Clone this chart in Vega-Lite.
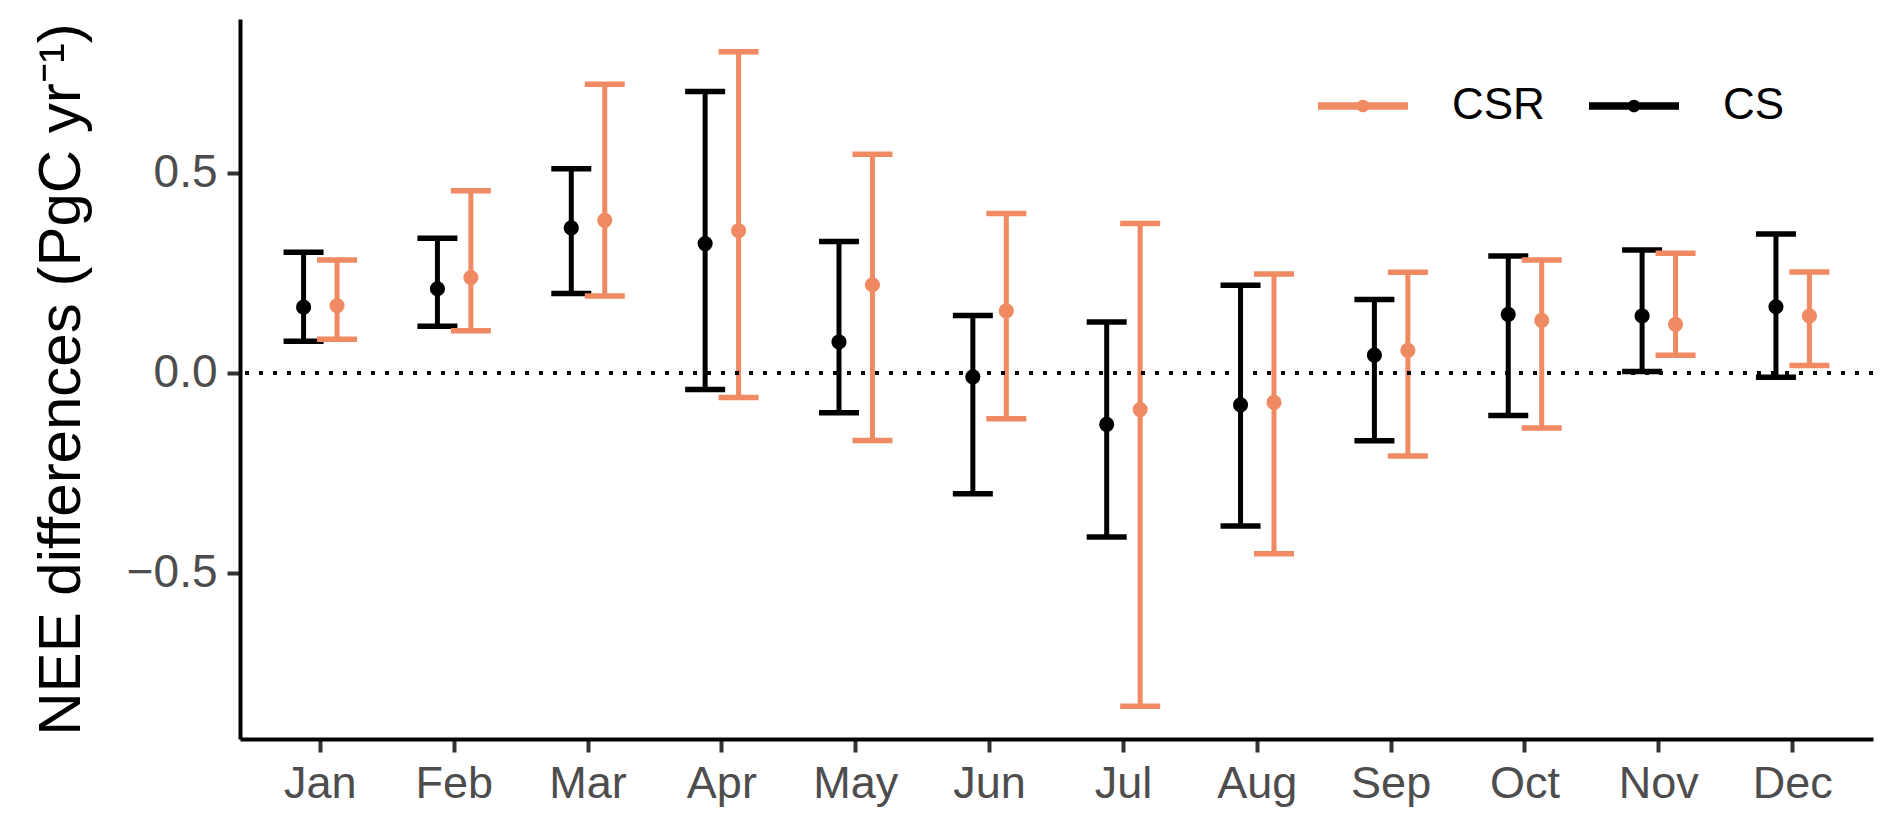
{
  "$schema": "https://vega.github.io/schema/vega-lite/v6.json",
  "autosize": "none",
  "width": 1633,
  "height": 720,
  "padding": {"left": 240, "top": 19, "right": 19, "bottom": 90},
  "background": "white",
  "config": {
    "font": "Liberation Sans",
    "view": {"stroke": null},
    "axis": {"grid": false}
  },
  "data": {
    "values": [
      {"month": "Jan", "group": "CS", "mean": 0.164, "lo": 0.079, "hi": 0.301},
      {"month": "Jan", "group": "CSR", "mean": 0.168, "lo": 0.084, "hi": 0.282},
      {"month": "Feb", "group": "CS", "mean": 0.210, "lo": 0.116, "hi": 0.336},
      {"month": "Feb", "group": "CSR", "mean": 0.238, "lo": 0.105, "hi": 0.455},
      {"month": "Mar", "group": "CS", "mean": 0.362, "lo": 0.198, "hi": 0.510},
      {"month": "Mar", "group": "CSR", "mean": 0.381, "lo": 0.192, "hi": 0.721},
      {"month": "Apr", "group": "CS", "mean": 0.323, "lo": -0.042, "hi": 0.703},
      {"month": "Apr", "group": "CSR", "mean": 0.355, "lo": -0.062, "hi": 0.802},
      {"month": "May", "group": "CS", "mean": 0.077, "lo": -0.100, "hi": 0.328},
      {"month": "May", "group": "CSR", "mean": 0.220, "lo": -0.169, "hi": 0.546},
      {"month": "Jun", "group": "CS", "mean": -0.010, "lo": -0.302, "hi": 0.143},
      {"month": "Jun", "group": "CSR", "mean": 0.155, "lo": -0.115, "hi": 0.398},
      {"month": "Jul", "group": "CS", "mean": -0.129, "lo": -0.410, "hi": 0.127},
      {"month": "Jul", "group": "CSR", "mean": -0.092, "lo": -0.833, "hi": 0.373},
      {"month": "Aug", "group": "CS", "mean": -0.080, "lo": -0.383, "hi": 0.219},
      {"month": "Aug", "group": "CSR", "mean": -0.074, "lo": -0.452, "hi": 0.247},
      {"month": "Sep", "group": "CS", "mean": 0.044, "lo": -0.170, "hi": 0.183},
      {"month": "Sep", "group": "CSR", "mean": 0.056, "lo": -0.208, "hi": 0.251},
      {"month": "Oct", "group": "CS", "mean": 0.146, "lo": -0.107, "hi": 0.292},
      {"month": "Oct", "group": "CSR", "mean": 0.131, "lo": -0.138, "hi": 0.282},
      {"month": "Nov", "group": "CS", "mean": 0.142, "lo": 0.003, "hi": 0.307},
      {"month": "Nov", "group": "CSR", "mean": 0.121, "lo": 0.044, "hi": 0.299},
      {"month": "Dec", "group": "CS", "mean": 0.165, "lo": -0.011, "hi": 0.347},
      {"month": "Dec", "group": "CSR", "mean": 0.142, "lo": 0.018, "hi": 0.252}
    ]
  },
  "encoding": {
    "x": {
      "field": "month",
      "type": "nominal",
      "sort": ["Jan","Feb","Mar","Apr","May","Jun","Jul","Aug","Sep","Oct","Nov","Dec"],
      "scale": {"paddingInner": 0, "paddingOuter": 0.1},
      "axis": {
        "title": null,
        "labelAngle": 0,
        "labelFontSize": 45,
        "labelColor": "#4D4D4D",
        "labelPadding": 9,
        "tickSize": 13,
        "tickWidth": 4,
        "tickColor": "#333333",
        "domainColor": "black",
        "domainWidth": 4
      }
    },
    "xOffset": {
      "field": "group",
      "type": "nominal",
      "scale": {"domain": ["CS", "CSR"], "paddingInner": 0, "paddingOuter": 1.0}
    },
    "color": {
      "field": "group",
      "type": "nominal",
      "scale": {"domain": ["CSR", "CS"], "range": ["#EF8A62", "#000000"]},
      "legend": {
        "title": null,
        "orient": "none",
        "direction": "horizontal",
        "legendX": 1078,
        "legendY": 42,
        "padding": 0,
        "labelFontSize": 44,
        "labelColor": "black",
        "labelOffset": 44,
        "columnPadding": 44,
        "symbolSize": 8100,
        "symbolStrokeWidth": 0,
        "symbolOpacity": 1,
        "symbolType": "M-1,-0.085H1V0.085H-1Z M-0.14,0A0.14,0.14,0,1,1,0.14,0A0.14,0.14,0,1,1,-0.14,0Z"
      }
    }
  },
  "layer": [
    {
      "mark": {"type": "point", "filled": true, "size": 230, "opacity": 1},
      "encoding": {
        "y": {
          "field": "mean",
          "type": "quantitative",
          "scale": {"domain": [-0.915, 0.884], "nice": false, "zero": false},
          "axis": {
            "title": "NEE differences (PgC yr⁻¹)",
            "titleFontSize": 60,
            "titleFontWeight": "normal",
            "titleColor": "black",
            "titlePadding": 34,
            "values": [-0.5, 0, 0.5],
            "format": ".1f",
            "labelFontSize": 46,
            "labelColor": "#4D4D4D",
            "labelPadding": 10,
            "tickSize": 13,
            "tickWidth": 4,
            "tickColor": "#333333",
            "domainColor": "black",
            "domainWidth": 4
          }
        }
      }
    },
    {
      "mark": {"type": "rule", "strokeWidth": 5},
      "encoding": {
        "y": {"field": "lo", "type": "quantitative"},
        "y2": {"field": "hi"}
      }
    },
    {
      "mark": {"type": "tick", "size": 40, "thickness": 5.5, "orient": "horizontal", "opacity": 1},
      "encoding": {
        "y": {"field": "hi", "type": "quantitative"}
      }
    },
    {
      "mark": {"type": "tick", "size": 40, "thickness": 5.5, "orient": "horizontal", "opacity": 1},
      "encoding": {
        "y": {"field": "lo", "type": "quantitative"}
      }
    },
    {
      "mark": {"type": "rule", "color": "black", "strokeWidth": 3.5, "strokeDash": [4, 10]},
      "encoding": {
        "y": {"datum": 0},
        "x": null,
        "xOffset": null,
        "color": null
      }
    }
  ]
}
